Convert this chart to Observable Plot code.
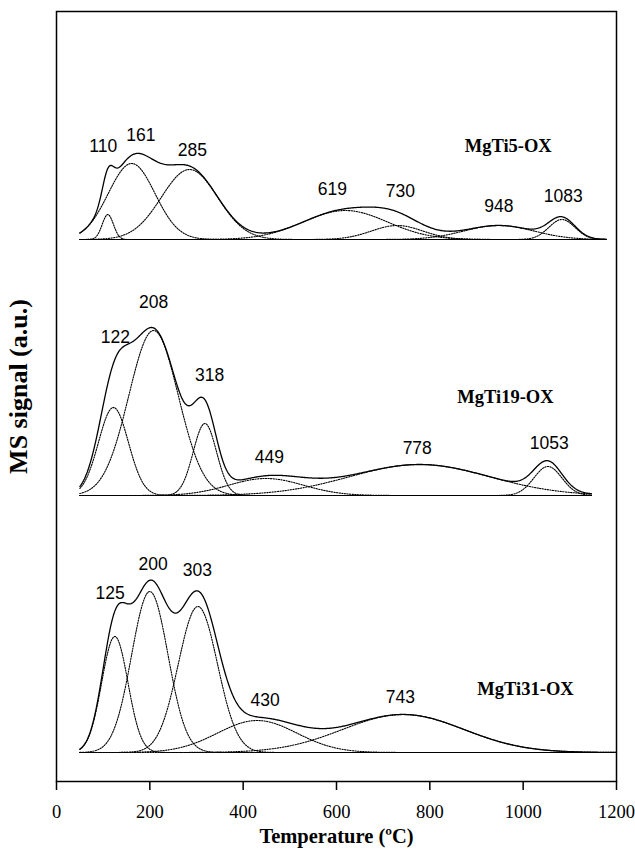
<!DOCTYPE html>
<html>
<head>
<meta charset="utf-8">
<script src="https://cdn.jsdelivr.net/npm/d3@7"></script>
<script src="https://cdn.jsdelivr.net/npm/@observablehq/plot@0.6"></script>
<style>
  html, body { margin: 0; padding: 0; background: #fff; }
</style>
</head>
<body>
<div id="chart"></div>
<script>
// ---- Data (peak centres in ºC, heights in a.u., widths = sigma in ºC) ----
const samples = ["MgTi5-OX", "MgTi19-OX", "MgTi31-OX"];

const mgti5Centers = [110, 161, 285, 619, 730, 948, 1083];
const mgti5Heights = [25, 76, 70, 29, 14, 14, 20];
const mgti5Sigmas  = [12, 50, 60, 90, 55, 75, 28];
const mgti5Range   = [50, 1178];

const mgti19Centers = [122, 208, 318, 449, 778, 1053];
const mgti19Heights = [88, 165, 72, 17, 31, 29];
const mgti19Sigmas  = [32, 53, 25, 80, 150, 30];
const mgti19Range   = [50, 1147];

const mgti31Centers = [125, 200, 303, 430, 743];
const mgti31Heights = [116, 161, 146, 32, 38];
const mgti31Sigmas  = [28, 39, 42, 85, 130];
const mgti31Range   = [50, 1200];

// peak-label anchor points (ºC, a.u. above each baseline)
const mgti5LabelX  = [100, 181, 291, 591, 737, 948, 1086];
const mgti5LabelY  = [93, 104, 89, 50, 48, 33, 43];
const mgti19LabelX = [126, 208, 328, 456, 773, 1056];
const mgti19LabelY = [158, 193, 120, 38, 47, 52];
const mgti31LabelX = [115, 207, 302, 447, 737];
const mgti31LabelY = [159, 188, 182, 52, 55];

const sampleLabelX = [968, 962, 1005];
const sampleLabelY = [93, 98, 63];

const xTicks = [0, 200, 400, 600, 800, 1000, 1200];

// vertical stacking of the three TPD profiles (a.u.)
const baselines = [542, 286, 29];

// ---- build tidy tables ----
const sets = [
  {c: mgti5Centers,  h: mgti5Heights,  s: mgti5Sigmas,  r: mgti5Range,  lx: mgti5LabelX,  ly: mgti5LabelY},
  {c: mgti19Centers, h: mgti19Heights, s: mgti19Sigmas, r: mgti19Range, lx: mgti19LabelX, ly: mgti19LabelY},
  {c: mgti31Centers, h: mgti31Heights, s: mgti31Sigmas, r: mgti31Range, lx: mgti31LabelX, ly: mgti31LabelY}
];

const comps = [], totals = [], peakLabels = [], names = [];
sets.forEach((d, i) => {
  const base = baselines[i];
  const grid = d3.range(d.r[0], d.r[1] + 0.001, 2);
  grid.forEach(T => {
    let sum = 0;
    d.c.forEach((c, k) => {
      const v = d.h[k] * Math.exp(-((T - c) ** 2) / (2 * d.s[k] ** 2));
      sum += v;
      comps.push({key: samples[i] + "-" + c, T, y: base + v});
    });
    totals.push({key: samples[i], T, y: base + sum});
  });
  d.c.forEach((c, k) => peakLabels.push({text: String(c), T: d.lx[k], y: base + d.ly[k]}));
  names.push({text: samples[i], T: sampleLabelX[i], y: base + sampleLabelY[i]});
});

const chart = Plot.plot({
  width: 635,
  height: 849,
  marginLeft: 56,
  marginRight: 19,
  marginTop: 11,
  marginBottom: 68,
  x: {domain: [0, 1200]},
  y: {domain: [0, 770], axis: null},
  style: {fontFamily: "'Liberation Serif', 'Times New Roman', serif", background: "#fff", color: "#000"},
  marks: [
    Plot.line(comps, {x: "T", y: "y", z: "key", stroke: "#000", strokeWidth: 1.1, strokeDasharray: "1.3,1.3", curve: "linear"}),
    Plot.line(totals, {x: "T", y: "y", z: "key", stroke: "#000", strokeWidth: 1.3, curve: "linear"}),
    Plot.frame({stroke: "#000", strokeWidth: 1.5}),
    Plot.axisX({ticks: xTicks, tickSize: 9, tickPadding: 14, tickFormat: d => String(d), fontSize: 18.5, label: null, stroke: "#000", strokeWidth: 1.5}),
    Plot.text(peakLabels, {x: "T", y: "y", text: "text", fontFamily: "'Liberation Sans', Arial, sans-serif", fontSize: 17.5, fill: "#000"}),
    Plot.text(names, {x: "T", y: "y", text: "text", fontWeight: "bold", fontSize: 18.5, fill: "#000"}),
    Plot.text(["Temperature (ºC)"], {frameAnchor: "bottom", lineAnchor: "middle", textAnchor: "middle", dy: 55, text: d => d, fontWeight: "bold", fontSize: 20.5, fill: "#000"}),
    Plot.text(["MS signal (a.u.)"], {frameAnchor: "left", lineAnchor: "middle", textAnchor: "middle", dx: -38, dy: -10, rotate: -90, text: d => d, fontWeight: "bold", fontSize: 26, fill: "#000"})
  ]
});
document.getElementById("chart").appendChild(chart);
</script>
</body>
</html>
